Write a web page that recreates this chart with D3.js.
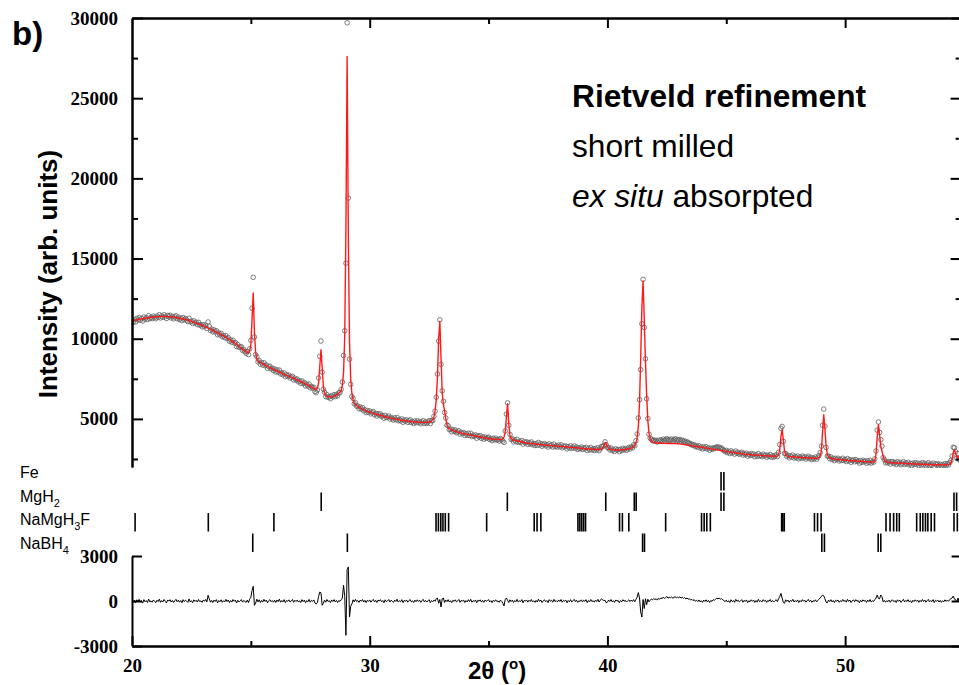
<!DOCTYPE html>
<html>
<head>
<meta charset="utf-8">
<script src="https://cdn.jsdelivr.net/npm/d3@7"></script>
<style>
  body { margin: 0; background: #fff; }
  svg { display: block; }
  .num { font-family: "Liberation Serif", "Times New Roman", serif; font-weight: bold; font-size: 19px; fill: #000; }
  .sans { font-family: "Liberation Sans", Arial, sans-serif; fill: #000; }
</style>
</head>
<body>
<svg id="chart" width="959" height="685"></svg>
<script>
// Powder pattern sampled on a regular 2θ grid
const twoThetaStart = 20;
const twoThetaStep = 0.05;

// Calculated (refined) profile, one value per grid step, 20.00° … 54.90°
const yCalc = [
  11100,11120,11140,11160,11180,11195,11210,11225,11240,11250,11260,11275,11285,11295,11305,11315,11325,11335,11340,11350,
  11360,11365,11375,11380,11385,11390,11395,11395,11395,11390,11385,11380,11375,11365,11355,11345,11335,11320,11305,11290,
  11275,11260,11245,11230,11215,11195,11175,11155,11135,11110,11085,11060,11035,11005,10980,10950,10920,10890,10860,10830,
  10800,10765,10730,10700,10665,10630,10595,10560,10525,10490,10450,10410,10370,10330,10290,10250,10210,10170,10130,10090,
  10050,10000,9950,9900,9850,9800,9750,9695,9640,9585,9530,9470,9410,9350,9290,9230,9180,9140,9120,9250,
  9650,11200,12850,10400,9150,8750,8620,8560,8510,8470,8430,8390,8350,8310,8270,8235,8200,8165,8130,8095,
  8060,8025,7990,7955,7920,7885,7850,7815,7780,7745,7710,7680,7650,7620,7590,7555,7520,7490,7455,7420,
  7385,7350,7315,7280,7245,7210,7175,7140,7100,7060,7020,6980,6940,6900,6860,6840,6900,7250,8300,9310,
  8200,7000,6600,6470,6410,6380,6370,6370,6380,6400,6420,6450,6490,6540,6600,6670,6760,7100,7900,10200,
  17000,27600,16500,9800,7500,6600,6200,6000,5900,5830,5770,5720,5680,5640,5600,5565,5530,5500,5470,5445,
  5420,5395,5370,5345,5320,5300,5280,5260,5240,5220,5200,5180,5160,5140,5120,5100,5080,5060,5045,5030,
  5015,5000,4985,4970,4955,4940,4925,4910,4900,4890,4880,4870,4860,4850,4840,4830,4820,4815,4810,4805,
  4800,4795,4790,4785,4780,4780,4780,4780,4785,4790,4800,4820,4860,4940,5100,5500,6200,7600,10000,11080,
  8800,6600,5900,5500,5000,4650,4480,4400,4350,4310,4280,4250,4225,4200,4180,4160,4140,4120,4100,4080,
  4065,4050,4035,4020,4005,3990,3975,3960,3945,3930,3915,3900,3885,3870,3855,3840,3825,3810,3800,3790,
  3780,3770,3760,3750,3740,3730,3720,3715,3710,3710,3715,3730,3770,3860,4150,5100,5950,4700,3950,3760,
  3700,3670,3650,3635,3620,3605,3590,3575,3560,3545,3530,3515,3500,3490,3480,3470,3460,3450,3440,3430,
  3420,3415,3410,3405,3400,3395,3385,3380,3370,3365,3355,3350,3340,3335,3325,3320,3310,3305,3300,3295,
  3290,3283,3276,3269,3262,3255,3248,3241,3234,3227,3220,3213,3206,3199,3192,3185,3178,3171,3164,3157,
  3150,3145,3140,3135,3130,3125,3120,3115,3110,3105,3100,3095,3090,3090,3100,3130,3190,3320,3520,3500,
  3280,3150,3100,3080,3070,3065,3060,3060,3060,3060,3065,3070,3075,3080,3090,3100,3110,3125,3140,3160,
  3190,3230,3290,3380,3520,3800,4500,6000,8800,12000,13600,11200,8600,6500,4900,4100,3750,3600,3550,3525,
  3510,3500,3495,3490,3485,3480,3478,3476,3474,3472,3470,3470,3468,3466,3464,3462,3460,3458,3455,3452,
  3450,3440,3430,3420,3410,3398,3386,3374,3362,3350,3338,3326,3314,3302,3290,3278,3266,3254,3242,3230,
  3218,3206,3194,3182,3170,3158,3146,3134,3122,3110,3098,3086,3074,3062,3050,3038,3026,3014,3002,2990,
  2978,2966,2954,2942,2930,2918,2906,2895,2884,2873,2862,2851,2840,2830,2820,2810,2800,2792,2784,2776,
  2768,2762,2756,2750,2744,2738,2732,2727,2722,2717,2712,2707,2702,2698,2694,2690,2686,2682,2678,2674,
  2670,2668,2670,2690,2760,3100,3900,4330,3700,3000,2760,2690,2665,2655,2648,2642,2636,2630,2624,2618,
  2612,2606,2600,2595,2590,2585,2580,2575,2570,2565,2560,2556,2552,2548,2545,2545,2550,2565,2600,2700,
  3000,4200,5260,4400,3300,2800,2620,2560,2535,2520,2510,2500,2492,2484,2476,2468,2460,2452,2444,2436,
  2428,2421,2414,2407,2400,2394,2388,2382,2376,2370,2365,2360,2355,2350,2345,2340,2336,2332,2328,2324,
  2320,2317,2314,2315,2330,2420,2800,3900,4640,4000,3300,3000,2650,2420,2340,2310,2295,2285,2278,2272,
  2266,2261,2256,2251,2246,2241,2236,2232,2228,2224,2220,2216,2212,2208,2204,2200,2197,2194,2191,2188,
  2185,2182,2179,2176,2173,2170,2167,2164,2161,2158,2155,2152,2150,2148,2146,2144,2142,2140,2138,2137,
  2136,2135,2134,2133,2133,2135,2140,2150,2180,2260,2480,2900,3080,2850,2600,2650,2500,2320,2250
];

// Difference curve (observed − calculated), same grid
const yDiff = [
  60,-90,40,-120,80,-30,110,-70,20,-140,90,-50,30,-100,130,-60,10,-80,70,-20,
  -110,50,-40,120,-90,30,-60,100,-20,-130,70,-10,90,-70,40,-100,20,110,-50,60,
  -80,30,-120,90,-40,60,-10,-90,140,-60,20,-110,80,-30,50,-70,100,-40,10,-90,
  70,-20,110,-60,380,150,-80,40,-100,60,-30,90,-120,30,-50,80,-90,20,-60,110,
  -40,70,-110,30,-70,100,-20,60,-130,50,-60,20,90,-80,40,-30,-90,60,-110,120,
  250,700,980,-290,-150,120,-60,80,-100,40,-70,110,-30,60,-120,20,90,-50,30,-80,
  50,-100,70,-40,120,-80,30,-60,90,-110,40,-20,80,-70,10,100,-90,50,-30,60,
  -70,20,-100,90,-40,60,-120,30,-50,110,-80,40,-20,70,-150,-200,-100,300,600,550,
  -290,-150,60,-80,100,-40,20,-110,70,-30,90,-60,40,-100,30,-20,80,200,1050,300,
  -2290,2100,2270,-1070,-350,-200,80,-60,110,-40,30,-90,60,-20,100,-70,40,-110,50,-30,
  70,-80,20,110,-60,40,-100,60,-10,90,-50,30,-120,80,-40,10,100,-70,50,-20,
  -90,60,-30,120,-70,20,-50,90,-110,40,-20,70,-80,30,100,-60,10,-100,60,-40,
  80,-30,50,-90,20,110,-60,40,-70,10,90,-110,30,-50,60,-20,150,200,-150,100,
  -400,150,200,-100,60,-40,90,-70,20,-110,50,-30,80,-60,10,100,-90,40,-20,70,
  -100,30,-60,90,-40,110,-80,20,-30,70,-120,50,-10,80,-70,40,-90,60,-20,30,
  90,-60,20,-110,50,-30,80,-40,10,-90,60,-20,-150,-330,100,200,50,-100,80,-40,
  60,-100,30,-50,110,-70,20,-40,90,-120,40,-10,70,-80,50,-30,100,-60,20,-90,
  40,-70,120,-30,60,-100,10,80,-50,30,-110,90,-20,50,-80,110,-40,20,-60,70,
  -30,100,-80,40,-10,60,-120,30,-50,90,-70,20,110,-40,60,-90,10,-30,80,-60,
  50,-20,90,-110,30,-60,100,-40,20,-80,60,-30,110,-70,40,150,80,30,50,-120,
  -80,60,-30,100,-50,20,-90,70,-10,40,-110,30,-60,90,-20,50,-70,10,80,-40,
  60,-30,90,-50,120,250,560,200,-730,-1070,100,-500,150,-250,120,-60,50,130,90,160,
  90,160,60,180,120,210,150,260,170,230,300,190,250,210,280,180,240,300,200,260,
  220,280,190,250,170,230,140,200,120,150,60,110,30,90,-20,50,-40,70,-60,20,
  -90,60,-30,80,-50,40,-100,30,-20,90,50,120,180,150,190,120,160,80,30,-40,
  60,-70,20,-100,80,-40,30,-90,110,-20,50,-60,10,90,-80,40,-30,70,-110,20,
  -50,80,-20,60,-100,30,-70,110,-40,20,-60,90,-10,50,-90,40,-30,100,-70,30,
  -60,20,90,-40,150,300,510,200,-100,-150,80,-30,60,-90,40,-20,110,-70,30,-50,
  70,-100,30,-50,90,-20,60,-80,10,110,-40,50,-90,20,-30,80,-60,40,120,200,
  300,400,350,150,-80,-120,60,-40,90,-60,30,-100,50,-20,70,-90,20,-50,100,-30,
  40,-80,110,-30,60,-100,20,70,-50,90,-20,30,-110,50,-60,80,-10,40,-90,60,
  -40,100,-70,20,-30,90,200,400,170,150,400,300,-60,40,-80,20,-40,60,-90,50,
  70,-50,30,-100,80,-20,60,-90,10,110,-60,40,-30,90,-70,20,-110,50,-40,80,
  -20,60,-90,40,-50,100,-30,70,-80,20,110,-60,30,-40,90,-100,50,-10,60,-70,
  40,-90,20,-50,80,-30,60,-20,100,150,200,330,120,100,-60,200,-40,80,-60
];

// Bragg reflection positions (2θ, °) of each phase
const phaseNames = ["Fe", "MgH2", "NaMgH3F", "NaBH4"];
const reflFe = [44.78, 44.90];
const reflMgH2 = [27.96, 35.79, 39.93, 41.13, 41.21, 44.78, 44.90, 54.58, 54.69];
const reflNaMgH3F = [20.13, 23.21, 25.97,
  32.79, 32.89, 32.99, 33.08, 33.18, 33.32, 34.92,
  36.92, 37.04, 37.20, 38.76, 38.84, 38.92, 39.00, 39.08,
  40.51, 40.63, 40.90, 42.45, 43.96, 44.07, 44.18, 44.33,
  47.33, 47.38, 47.44, 48.71, 48.84, 48.99,
  51.72, 51.89, 52.04, 52.17, 52.28,
  53.01, 53.16, 53.27, 53.38, 53.48, 53.62, 53.76, 54.58, 54.72];
const reflNaBH4 = [25.08, 29.06, 41.48, 41.56, 49.02, 49.13, 51.39, 51.50];
const reflections = [reflFe, reflMgH2, reflNaMgH3F, reflNaBH4];

// Phase labels split into normal / subscript runs
const phaseLabelRuns = [
  [["Fe", false]],
  [["MgH", false], ["2", true]],
  [["NaMgH", false], ["3", true], ["F", false]],
  [["NaBH", false], ["4", true]]
];

// Axis ticks
const intensityTicks = [5000, 10000, 15000, 20000, 25000, 30000];
const intensityMinorTicks = [2500, 7500, 12500, 17500, 22500, 27500];
const diffTicks = [-3000, 0, 3000];
const angleTicks = [20, 30, 40, 50];
const angleMinorTicks = [25, 35, 45];

// Annotation
const titleLine = "Rietveld refinement";
const subLine1 = "short milled";
const subLine2Italic = "ex situ";
const subLine2Rest = " absorpted";

// ---------------------------------------------------------------
const svg = d3.select("#chart");
const plotLeft = 132, plotRight = 961.6;
const x = d3.scaleLinear().domain([20, 54.9]).range([plotLeft, plotRight]);
const yTop = d3.scaleLinear().domain([2000, 30000]).range([467, 18]);
const yBot = d3.scaleLinear().domain([-3000, 3000]).range([646, 556]);
const plainNumber = d => String(d);

const pts = yCalc.map((c, i) => ({
  t: +(twoThetaStart + i * twoThetaStep).toFixed(2),
  calc: c,
  diff: yDiff[i],
  obs: c + yDiff[i]
}));

svg.append("rect").attr("width", 959).attr("height", 685).attr("fill", "#fff");

const defs = svg.append("defs");
defs.append("clipPath").attr("id", "clipTop").append("rect")
  .attr("x", plotLeft).attr("y", 17).attr("width", plotRight - plotLeft).attr("height", 451);
defs.append("clipPath").attr("id", "clipBot").append("rect")
  .attr("x", plotLeft).attr("y", 556).attr("width", plotRight - plotLeft).attr("height", 90);

// Observed points
const gTop = svg.append("g").attr("clip-path", "url(#clipTop)");
gTop.append("g").selectAll("circle").data(pts).join("circle")
  .attr("cx", d => x(d.t)).attr("cy", d => yTop(d.obs)).attr("r", 2.3)
  .attr("fill", "none").attr("stroke", "#606060").attr("stroke-width", 0.8);

// Calculated profile
gTop.append("path").datum(pts)
  .attr("fill", "none").attr("stroke", "#ff1a1a").attr("stroke-width", 1.4)
  .attr("stroke-linejoin", "round")
  .attr("d", d3.line().x(d => x(d.t)).y(d => yTop(d.calc)));

// Difference curve
svg.append("g").attr("clip-path", "url(#clipBot)").append("path").datum(pts)
  .attr("fill", "none").attr("stroke", "#000").attr("stroke-width", 1)
  .attr("stroke-linejoin", "round")
  .attr("d", d3.line().x(d => x(d.t)).y(d => yBot(d.diff)));

// Reflection tick rows
const rowBand = d3.scaleBand().domain(phaseNames).range([471, 553]);
phaseNames.forEach((name, i) => {
  const y0 = rowBand(name) + 1, y1 = rowBand(name) + rowBand.bandwidth() - 1;
  svg.append("g").selectAll("line").data(reflections[i]).join("line")
    .attr("x1", d => x(d)).attr("x2", d => x(d))
    .attr("y1", y0).attr("y2", y1)
    .attr("stroke", "#000").attr("stroke-width", 1.6);
});

// Phase labels
const labelY = d3.scalePoint().domain(phaseNames).range([478, 548.5]);
phaseNames.forEach((name, i) => {
  const t = svg.append("text").attr("class", "sans").attr("x", 20).attr("y", labelY(name))
    .style("font-size", "16px");
  let shifted = false;
  phaseLabelRuns[i].forEach(([txt, sub]) => {
    const s = t.append("tspan").text(txt);
    if (sub) { s.style("font-size", "11px").attr("dy", 5); shifted = true; }
    else if (shifted) { s.attr("dy", -5); shifted = false; }
  });
});

// Axes
function styleAxis(g, withText) {
  g.attr("font-family", null).attr("font-size", null);
  g.selectAll("path.domain").attr("stroke", "#000").attr("stroke-width", 2);
  g.selectAll(".tick line").attr("stroke", "#000").attr("stroke-width", 2);
  if (withText) {
    g.selectAll(".tick text").attr("class", "num").attr("fill", null);
  } else {
    g.selectAll(".tick text").remove();
  }
}

// top panel: left
svg.append("g").attr("transform", `translate(${plotLeft},0)`)
  .call(d3.axisLeft(yTop).tickValues(intensityMinorTicks).tickSizeInner(-6).tickSizeOuter(0).tickFormat(""))
  .call(g => styleAxis(g, false));
svg.append("g").attr("transform", `translate(${plotLeft},0)`)
  .call(d3.axisLeft(yTop).tickValues(intensityTicks).tickSizeInner(-11).tickSizeOuter(0).tickPadding(14).tickFormat(plainNumber))
  .call(g => styleAxis(g, true));
// top panel: right
svg.append("g").attr("transform", `translate(${plotRight},0)`)
  .call(d3.axisRight(yTop).tickValues(intensityMinorTicks).tickSizeInner(-6).tickSizeOuter(0).tickFormat(""))
  .call(g => styleAxis(g, false));
svg.append("g").attr("transform", `translate(${plotRight},0)`)
  .call(d3.axisRight(yTop).tickValues(intensityTicks).tickSizeInner(-11).tickSizeOuter(0).tickFormat(""))
  .call(g => styleAxis(g, false));
// top panel: top edge
svg.append("g").attr("transform", `translate(0,${yTop(30000)})`)
  .call(d3.axisTop(x).tickValues(angleMinorTicks).tickSizeInner(-6).tickSizeOuter(0).tickFormat(""))
  .call(g => styleAxis(g, false));
svg.append("g").attr("transform", `translate(0,${yTop(30000)})`)
  .call(d3.axisTop(x).tickValues(angleTicks.slice(1)).tickSizeInner(-10).tickSizeOuter(0).tickFormat(""))
  .call(g => styleAxis(g, false));

// bottom panel: left / right
svg.append("g").attr("transform", `translate(${plotLeft},0)`)
  .call(d3.axisLeft(yBot).tickValues(diffTicks).tickSizeInner(-10).tickSizeOuter(0).tickPadding(14).tickFormat(plainNumber))
  .call(g => styleAxis(g, true));
svg.append("g").attr("transform", `translate(${plotRight},0)`)
  .call(d3.axisRight(yBot).tickValues(diffTicks).tickSizeInner(-10).tickSizeOuter(0).tickFormat(""))
  .call(g => styleAxis(g, false));
// bottom panel: 2θ axis
svg.append("g").attr("transform", `translate(0,${yBot(-3000)})`)
  .call(d3.axisBottom(x).tickValues(angleMinorTicks).tickSizeInner(-5).tickSizeOuter(0).tickFormat(""))
  .call(g => styleAxis(g, false));
svg.append("g").attr("transform", `translate(0,${yBot(-3000)})`)
  .call(d3.axisBottom(x).tickValues(angleTicks).tickSizeInner(-10).tickSizeOuter(0).tickPadding(13).tickFormat(plainNumber))
  .call(g => styleAxis(g, true));

// Axis titles
svg.append("text").attr("class", "sans")
  .attr("transform", "translate(57,274) rotate(-90)")
  .attr("text-anchor", "middle")
  .style("font-weight", "bold").style("font-size", "26px")
  .text("Intensity (arb. units)");

const xt = svg.append("text").attr("class", "sans").attr("x", 468).attr("y", 679)
  .style("font-weight", "bold").style("font-size", "24px");
xt.append("tspan").text("2θ (");
xt.append("tspan").style("font-size", "15px").attr("dy", -10).text("o");
xt.append("tspan").attr("dy", 10).text(")");

// Panel letter
svg.append("text").attr("class", "sans").attr("x", 12).attr("y", 45)
  .style("font-weight", "bold").style("font-size", "33px").text("b)");

// Annotation block
const ann = svg.append("g").attr("class", "sans").style("font-size", "31.7px");
ann.append("text").attr("x", 572).attr("y", 107).style("font-weight", "bold").text(titleLine);
ann.append("text").attr("x", 572).attr("y", 157).text(subLine1);
const l3 = ann.append("text").attr("x", 572).attr("y", 207);
l3.append("tspan").style("font-style", "italic").text(subLine2Italic);
l3.append("tspan").text(subLine2Rest);
</script>
</body>
</html>
